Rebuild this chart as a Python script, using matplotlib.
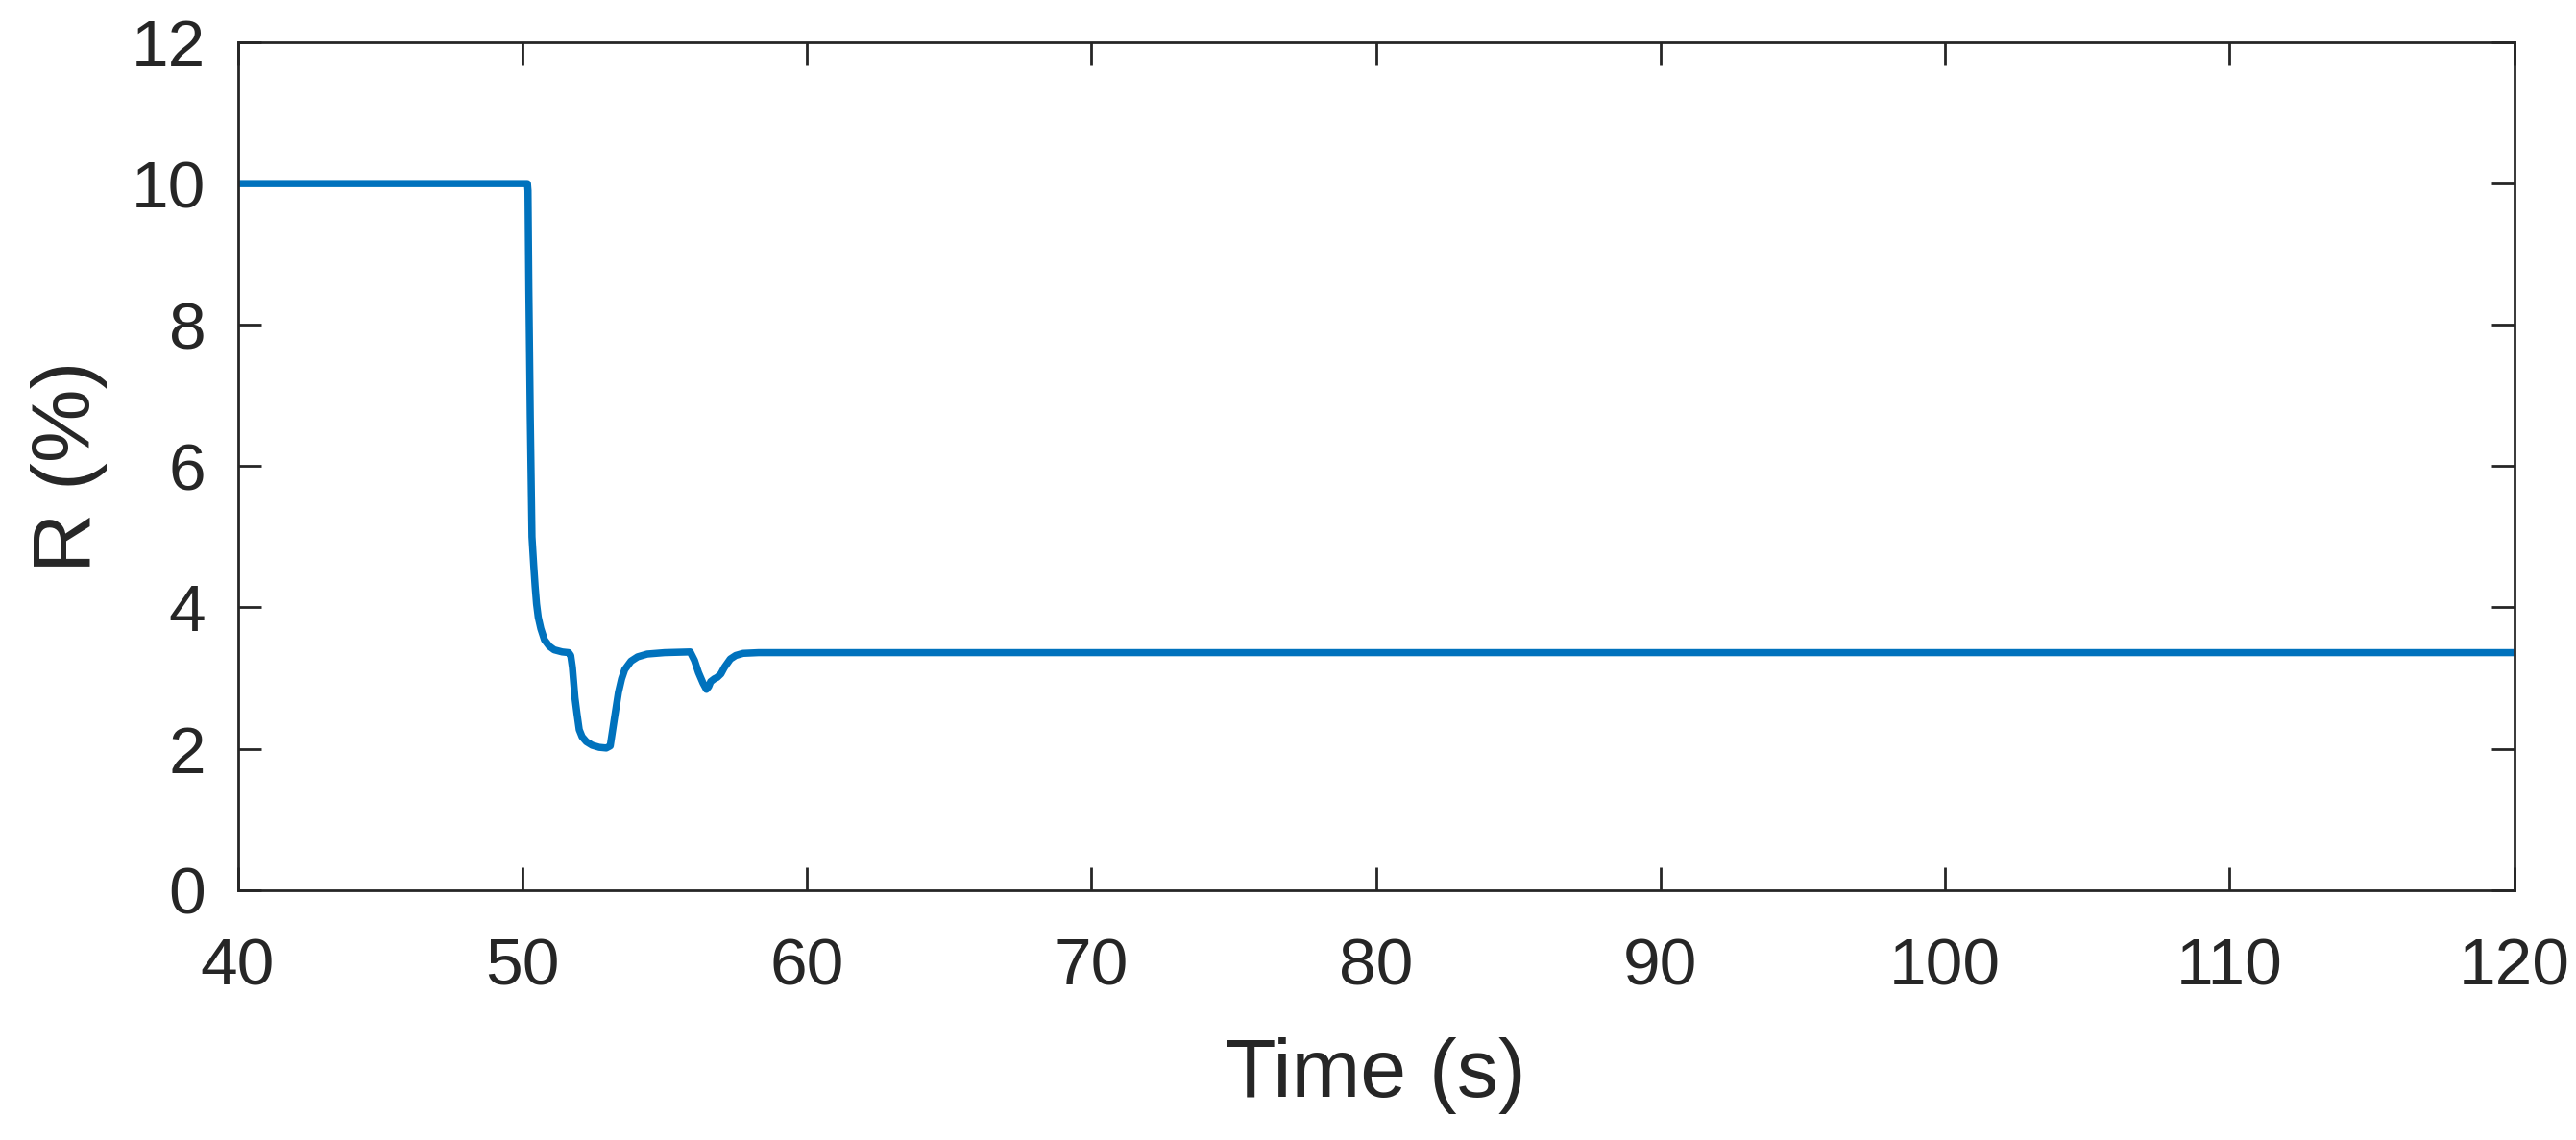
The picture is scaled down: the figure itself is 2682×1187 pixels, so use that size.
import matplotlib
matplotlib.use('Agg')
import matplotlib.pyplot as plt

plt.rcParams['font.family'] = ['Liberation Sans', 'DejaVu Sans']

# time (s) and R (%)
time = [40.0, 50.18, 50.20, 50.23, 50.28, 50.34, 50.40, 50.45, 50.50, 50.56,
        50.65, 50.78, 50.95, 51.12, 51.40, 51.63, 51.70, 51.76, 51.85, 51.92,
        52.00, 52.10, 52.25, 52.45, 52.70, 52.95, 53.09, 53.15, 53.26, 53.38,
        53.49, 53.60, 53.82, 54.05, 54.39, 55.00, 55.90, 56.05, 56.19, 56.35,
        56.47, 56.55, 56.62, 56.75, 56.85, 56.98, 57.10, 57.31, 57.50, 57.76,
        58.30, 120.0]
r_pct = [10.0, 10.0, 9.9, 8.5, 6.7, 5.0, 4.6, 4.3, 4.05, 3.86,
         3.70, 3.54, 3.45, 3.40, 3.37, 3.36, 3.32, 3.15, 2.72, 2.50,
         2.27, 2.17, 2.10, 2.05, 2.02, 2.01, 2.04, 2.20, 2.49, 2.80,
         2.99, 3.12, 3.24, 3.30, 3.34, 3.36, 3.37, 3.25, 3.08, 2.93,
         2.84, 2.88, 2.95, 2.99, 3.01, 3.06, 3.15, 3.27, 3.32, 3.35,
         3.36, 3.36]

x_ticks = [40, 50, 60, 70, 80, 90, 100, 110, 120]
y_ticks = [0, 2, 4, 6, 8, 10, 12]

axis_color = '#262626'
line_color = '#0072BD'

fig = plt.figure(figsize=(26.82, 11.87), dpi=100)
ax = fig.add_axes([0.0923, 0.2193, 0.8837, 0.7436])

ax.plot(time, r_pct, color=line_color, linewidth=5.4,
        solid_joinstyle='round', solid_capstyle='butt')

ax.set_xlim(40, 120)
ax.set_ylim(0, 12)
ax.set_xticks(x_ticks)
ax.set_yticks(y_ticks)

for sp in ax.spines.values():
    sp.set_linewidth(2.0)
    sp.set_color(axis_color)

ax.tick_params(axis='both', direction='in', length=17, width=2.0,
               colors=axis_color, labelsize=50, top=True, right=True)
ax.tick_params(axis='x', pad=35)
ax.tick_params(axis='y', pad=24)

ax.set_xlabel('Time (s)', fontsize=62, color=axis_color, labelpad=29)
ax.set_ylabel('R (%)', fontsize=62, color=axis_color, labelpad=18)

fig.savefig('out.png', dpi=100)
